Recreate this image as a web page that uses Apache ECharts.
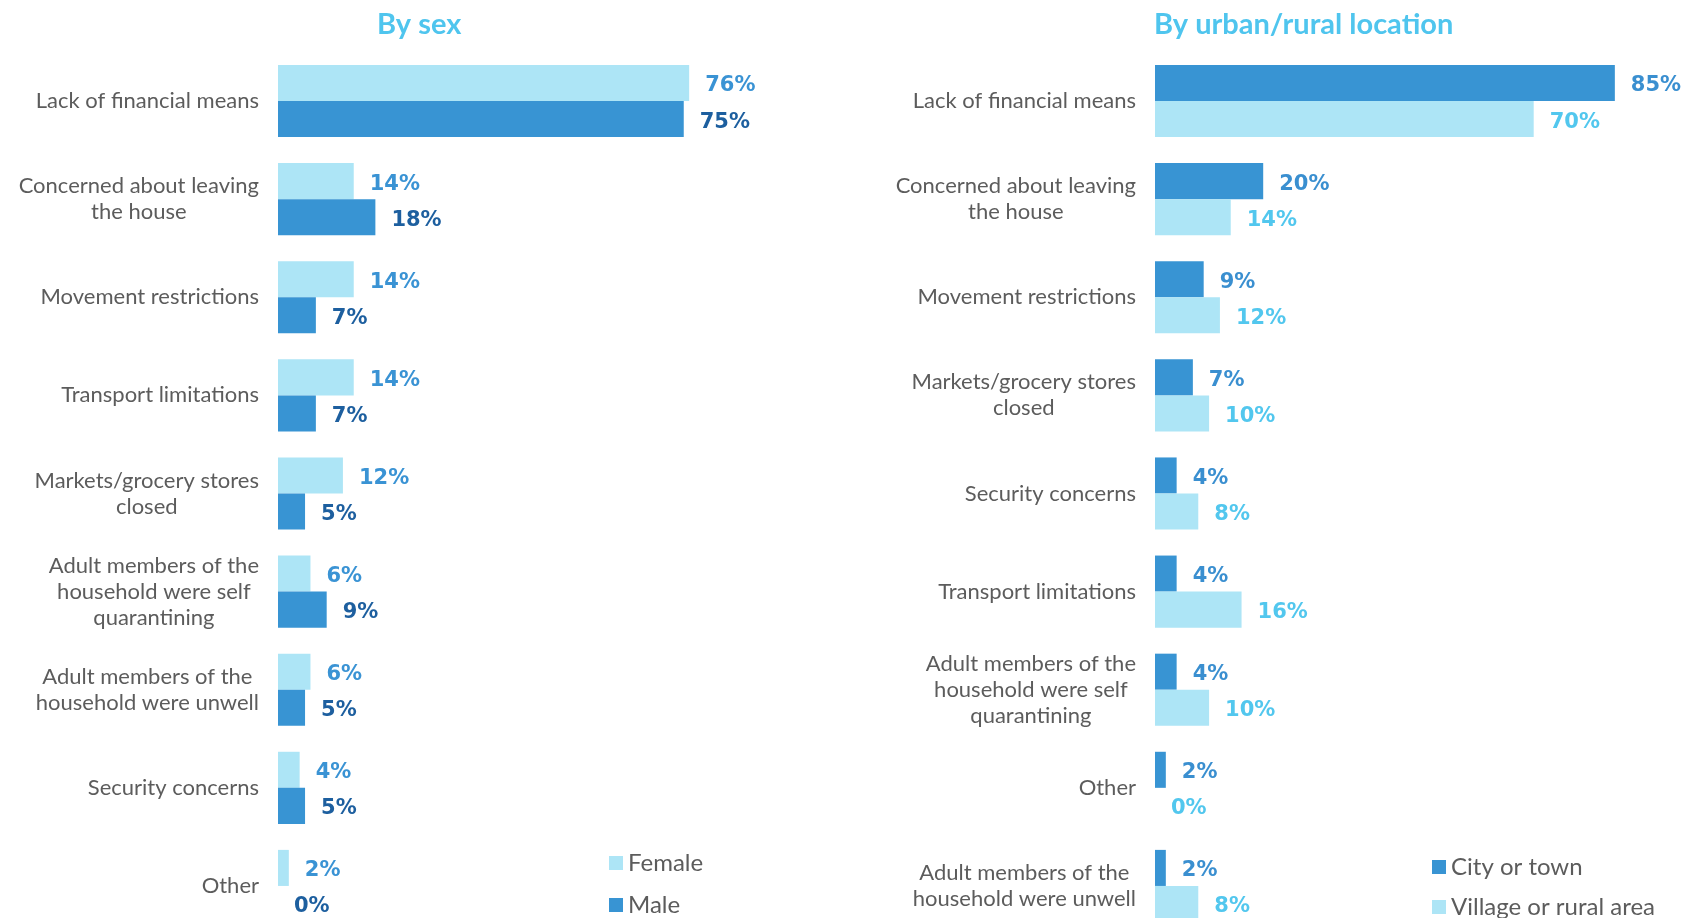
<!DOCTYPE html>
<html>
<head>
<meta charset="utf-8">
<title>Reasons for not accessing food</title>
<script src="https://cdn.jsdelivr.net/npm/echarts@6/dist/echarts.min.js"></script>
<style>
  html, body { margin: 0; padding: 0; background: #ffffff; }
  #chart { width: 1682px; height: 918px; }
</style>
</head>
<body>
<div id="chart"></div>
<script>
// Left panel: by sex
const sexCategories = [
  'Lack of financial means',
  'Concerned about leaving\nthe house',
  'Movement restrictions',
  'Transport limitations',
  'Markets/grocery stores\nclosed',
  'Adult members of the\nhousehold were self\nquarantining',
  'Adult members of the\nhousehold were unwell',
  'Security concerns',
  'Other'
];
const femaleValues = [76, 14, 14, 14, 12, 6, 6, 4, 2];
const maleValues = [75, 18, 7, 7, 5, 9, 5, 5, 0];

// Right panel: by urban/rural location
const locationCategories = [
  'Lack of financial means',
  'Concerned about leaving\nthe house',
  'Movement restrictions',
  'Markets/grocery stores\nclosed',
  'Security concerns',
  'Transport limitations',
  'Adult members of the\nhousehold were self\nquarantining',
  'Other',
  'Adult members of the\nhousehold were unwell'
];
const cityValues = [85, 20, 9, 7, 4, 4, 4, 2, 2];
const villageValues = [70, 14, 12, 10, 8, 16, 10, 0, 8];

const LIGHT = '#ade5f6';
const DARK = '#3894d3';
const TEXT_GREY = '#5c5c5c';
const TITLE_BLUE = '#4fc5ee';
const FONT = 'Lato, "Open Sans", sans-serif';
const VALUE_FONT = '"DejaVu Sans", Lato, sans-serif';

// each line of a category label is centred within its right-aligned block
function catLabel(value) {
  return value.split('\n').map(l => '{c|' + l + '}').join('\n');
}

function valueAxis(gridIndex) {
  return {
    type: 'value', gridIndex, min: 0, max: 100,
    axisLine: { show: false }, axisTick: { show: false },
    axisLabel: { show: false }, splitLine: { show: false }
  };
}

function categoryAxis(gridIndex, data) {
  return {
    type: 'category', gridIndex, data, inverse: true,
    axisLine: { show: false }, axisTick: { show: false },
    axisLabel: {
      margin: 19,
      formatter: catLabel,
      rich: {
        c: { align: 'center', color: TEXT_GREY, fontFamily: FONT, fontSize: 22, lineHeight: 26 }
      }
    }
  };
}

function barSeries(name, data, axisIndex, color, labelColor) {
  return {
    name, type: 'bar', data,
    xAxisIndex: axisIndex, yAxisIndex: axisIndex,
    barGap: '0%', barCategoryGap: '26.5%',
    itemStyle: { color },
    label: {
      show: true, position: 'right', distance: 16, offset: [0, 3],
      formatter: '{c}%',
      color: labelColor, fontFamily: VALUE_FONT, fontWeight: 'bold', fontSize: 21
    }
  };
}

// one legend entry, placed on its own
function legendItem(name, left, top) {
  return {
    data: [name], left, top, padding: 0,
    itemWidth: 14, itemHeight: 14, icon: 'rect',
    textStyle: { color: TEXT_GREY, fontFamily: FONT, fontSize: 24 }
  };
}

const chart = echarts.init(document.getElementById('chart'), null, { renderer: 'canvas' });

chart.setOption({
  animation: false,
  title: [
    { text: 'By sex', left: 372, top: 5,
      textStyle: { color: TITLE_BLUE, fontFamily: FONT, fontWeight: 'bold', fontSize: 29 } },
    { text: 'By urban/rural location', left: 1149, top: 5,
      textStyle: { color: TITLE_BLUE, fontFamily: FONT, fontWeight: 'bold', fontSize: 29 } }
  ],
  legend: [
    legendItem('Female', 609, 851),
    legendItem('Male', 609, 893),
    legendItem('City or town', 1432, 855),
    legendItem('Village or rural area', 1432, 895)
  ],
  grid: [
    { left: 278, top: 52, width: 541, height: 883, outerBoundsMode: 'none' },
    { left: 1155, top: 52, width: 541, height: 883, outerBoundsMode: 'none' }
  ],
  xAxis: [valueAxis(0), valueAxis(1)],
  yAxis: [categoryAxis(0, sexCategories), categoryAxis(1, locationCategories)],
  series: [
    barSeries('Female', femaleValues, 0, LIGHT, '#3a93d4'),
    barSeries('Male', maleValues, 0, DARK, '#1d5f9f'),
    barSeries('City or town', cityValues, 1, DARK, '#3a8fd0'),
    barSeries('Village or rural area', villageValues, 1, LIGHT, '#52c7ee')
  ]
});
</script>
</body>
</html>
